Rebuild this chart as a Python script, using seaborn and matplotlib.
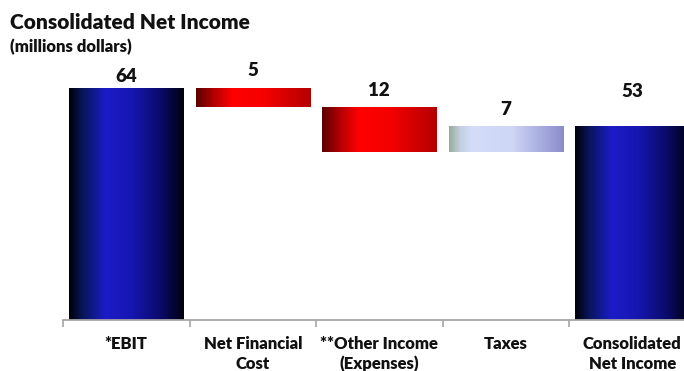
import numpy as np
import pandas as pd
import matplotlib
matplotlib.use("Agg")
import matplotlib.pyplot as plt
import seaborn as sns
from matplotlib.colors import LinearSegmentedColormap

# ---- data ----
categories = ["*EBIT", "Net Financial\nCost", "**Other Income\n(Expenses)", "Taxes", "Consolidated\nNet Income"]
values = [64.0, -5.2, -12.4, 7.0, 53.4]
kinds = ["total", "delta", "delta", "delta", "total"]

# ---- waterfall geometry from data ----
bottoms, tops = [], []
running = 0.0
for v, k in zip(values, kinds):
    if k == "total":
        b, t = 0.0, v
        running = v
    else:
        start = running
        running = running + v
        b, t = min(start, running), max(start, running)
    bottoms.append(b)
    tops.append(t)
heights = [t - b for b, t in zip(bottoms, tops)]
labels = [f"{abs(v):.0f}" for v in values]

df = pd.DataFrame({"category": categories, "height": heights})

sns.set_theme(style="white")
plt.rcParams["font.family"] = ["Lato", "DejaVu Sans"]
plt.rcParams["font.weight"] = "heavy"

W = "heavy"
fig = plt.figure(figsize=(6.84, 3.71), dpi=100)
ax = fig.add_axes([63 / 684, 51 / 371, 632.5 / 684, 253.75 / 371])

sns.barplot(data=df, x="category", y="height", ax=ax, width=0.905,
            color="#1a1acc", saturation=1, order=categories)

cm_blue = LinearSegmentedColormap.from_list("blue", [
    (0.0, "#000008"), (0.12, "#08165a"), (0.32, "#1c1cc8"),
    (0.55, "#1616b0"), (0.8, "#0a0a6a"), (1.0, "#00000e")])
cm_red = LinearSegmentedColormap.from_list("red", [
    (0.0, "#5a0000"), (0.15, "#b00000"), (0.32, "#ff0000"),
    (0.6, "#f40000"), (1.0, "#b40000")])
cm_pos = LinearSegmentedColormap.from_list("pos", [
    (0.0, "#98ac98"), (0.1, "#c4d0e4"), (0.2, "#d4dcfa"),
    (0.55, "#cfd6f6"), (0.8, "#a8ade0"), (1.0, "#8a8cca")])

grad = np.linspace(0, 1, 256).reshape(1, -1)
patches = list(ax.patches)
for p, b, h, v, k in zip(patches, bottoms, heights, values, kinds):
    p.set_y(b)
    p.set_height(h)
    cmap = cm_blue if k == "total" else (cm_red if v < 0 else cm_pos)
    x0 = p.get_x()
    x1 = x0 + p.get_width()
    im = ax.imshow(grad, extent=[x0, x1, b, b + h], aspect="auto",
                   cmap=cmap, zorder=2, interpolation="bilinear")
    im.set_clip_path(p)
    p.set_facecolor("none")
    p.set_edgecolor("none")

# value labels (offsets in pixels above bar tops)
offsets_px = [6, 12, 11, 11, 29]
for i, (t, lab, off) in enumerate(zip(tops, labels, offsets_px)):
    ax.annotate(lab, xy=(i, t), xytext=(0, off * 0.72), textcoords="offset points",
                ha="center", va="baseline", fontsize=13.5, fontweight=W,
                color="#111111")

ax.set_xlim(-0.5, 4.5)
ax.set_ylim(0, 70)
ax.set_xlabel("")
ax.set_ylabel("")
ax.set_yticks([])
for s in ["left", "top", "right"]:
    ax.spines[s].set_visible(False)
ax.spines["bottom"].set_color("#a6a6a6")
ax.spines["bottom"].set_linewidth(1.3)

ax.set_xticks(range(len(categories)))
ax.set_xticklabels(categories, fontsize=12, fontweight=W, color="#111111",
                   linespacing=1.28)
ax.tick_params(axis="x", which="major", length=0, pad=11.5)
ax.set_xticks(np.arange(-0.5, len(categories), 1.0), minor=True)
ax.tick_params(axis="x", which="minor", length=5, width=1.2, color="#a6a6a6",
               direction="out", bottom=True)

fig.text(10 / 684, 1 - 29 / 371, "Consolidated Net Income", fontsize=15,
         fontweight=W, color="#111111", va="baseline", ha="left")
fig.text(10 / 684, 1 - 52 / 371, "(millions dollars)", fontsize=12,
         fontweight=W, color="#111111", va="baseline", ha="left")

fig.savefig("out.png", dpi=100)
